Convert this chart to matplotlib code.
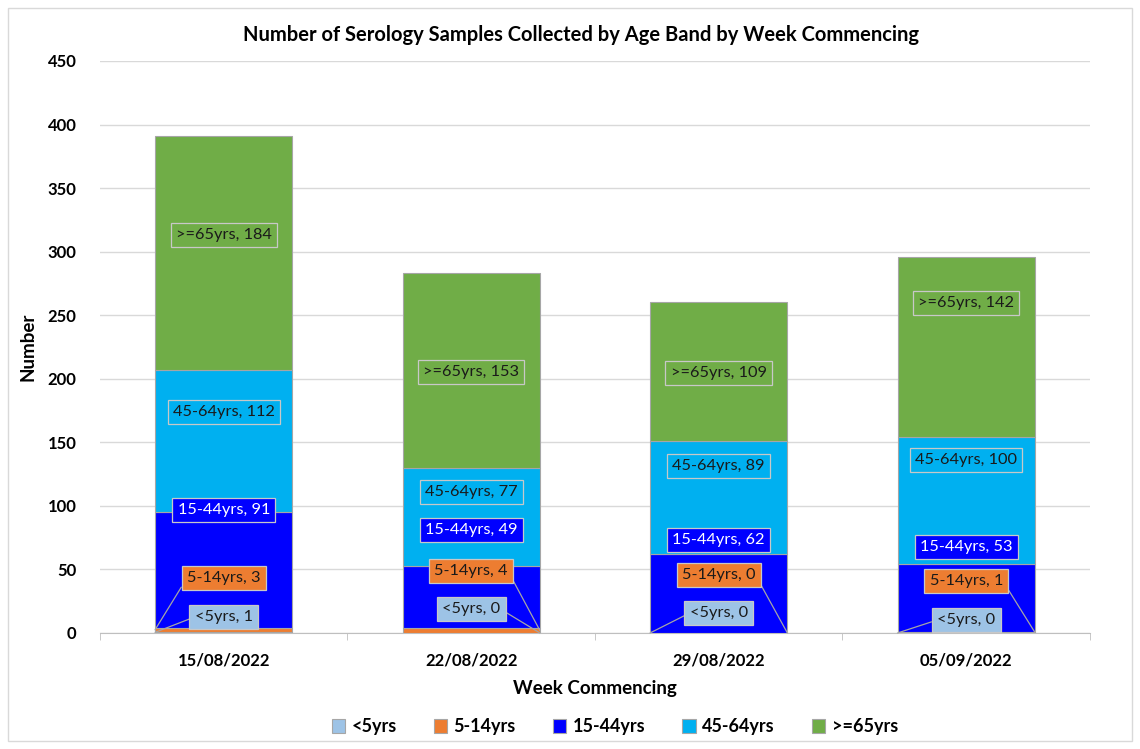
import matplotlib
matplotlib.use("Agg")
import matplotlib.pyplot as plt
from matplotlib.patches import Rectangle
import numpy as np

plt.rcParams["font.family"] = ["Lato", "DejaVu Sans"]

# data
weeks = ["15/08/2022", "22/08/2022", "29/08/2022", "05/09/2022"]
bands = ["<5yrs", "5-14yrs", "15-44yrs", "45-64yrs", ">=65yrs"]
under5 = [1, 0, 0, 0]
age5_14 = [3, 4, 0, 1]
age15_44 = [91, 49, 62, 53]
age45_64 = [112, 77, 89, 100]
age65plus = [184, 153, 109, 142]
yticks = [0, 50, 100, 150, 200, 250, 300, 350, 400, 450]

# styles / layout
colors = ["#9DC3E6", "#ED7D31", "#0000FF", "#00B0F0", "#70AD47"]
text_colors = ["#1A1A1A", "#1A1A1A", "white", "#1A1A1A", "#1A1A1A"]
# label heights (data units) as Excel placed them, per band per week
label_y = [
    [12.6, 18.9, 15.7, 10.2],
    [43.3, 48.8, 45.6, 40.9],
    [96.8, 81.0, 73.2, 67.7],
    [173.9, 110.9, 131.4, 136.1],
    [313.1, 205.3, 204.5, 259.6],
]
# which bar corner the leader line of small labels goes to (-1 left, 1 right)
leader_side = [
    [-1, 1, -1, -1],
    [-1, 1, 1, 1],
]

series = [under5, age5_14, age15_44, age45_64, age65plus]

fig = plt.figure(figsize=(11.4, 7.49), dpi=100)
ax = fig.add_axes([0.0877, 0.1549, 0.8684, 0.7637])

x = np.arange(len(weeks))
width = 0.555
bottom = np.zeros(len(weeks))
for k, (name, vals) in enumerate(zip(bands, series)):
    vals = np.array(vals, dtype=float)
    ax.bar(x, vals, width, bottom=bottom, color=colors[k], edgecolor="#A6A6A6",
           linewidth=0.8, label=name, zorder=3)
    for i in range(len(weeks)):
        txt = f"{name}, {int(vals[i])}"
        box = dict(boxstyle="square,pad=0.32", fc=colors[k], ec="#C8C8C8", lw=0.9)
        if k < 2:
            side = leader_side[k][i]
            ax.annotate(txt, xy=(x[i] + side * width / 2, bottom[i] + vals[i] / 2),
                        xytext=(x[i], label_y[k][i]), textcoords="data",
                        ha="center", va="center", fontsize=11.8,
                        color=text_colors[k], bbox=box, zorder=5,
                        arrowprops=dict(arrowstyle="-", color="#A6A6A6", lw=0.9,
                                        shrinkA=0, shrinkB=0,
                                        relpos=(1 if side > 0 else 0, 0.5)))
        else:
            ax.text(x[i], label_y[k][i], txt, ha="center", va="center",
                    fontsize=11.8, color=text_colors[k], bbox=box, zorder=5)
    bottom += vals

ax.set_xlim(-0.5, len(weeks) - 0.5)
ax.set_ylim(0, 450)
ax.set_yticks(yticks)
ax.set_yticklabels([str(v) for v in yticks], fontsize=12, fontweight="bold")
ax.set_xticks(x)
ax.set_xticklabels(weeks, fontsize=12, fontweight="bold")
ax.set_xticks(np.arange(-0.5, len(weeks), 1), minor=True)
ax.tick_params(axis="x", which="major", length=0, pad=14)
ax.tick_params(axis="x", which="minor", length=5, color="#BFBFBF")
ax.tick_params(axis="y", length=0, pad=17)
ax.grid(axis="y", color="#D9D9D9", lw=1, zorder=0)
for s in ["top", "right", "left"]:
    ax.spines[s].set_visible(False)
ax.spines["bottom"].set_color("#BFBFBF")

ax.set_xlabel("Week Commencing", fontsize=13.5, fontweight="bold", labelpad=8)
ax.set_ylabel("Number", fontsize=13.5, fontweight="bold", labelpad=8)
fig.text(0.51, 0.953, "Number of Serology Samples Collected by Age Band by Week Commencing",
         ha="center", va="center", fontsize=14.5, fontweight="bold")

ax.legend(loc="center", bbox_to_anchor=(0.52, -0.164), ncol=5, frameon=False,
          prop=dict(weight="bold", size=13), handlelength=0.75, handleheight=0.75,
          columnspacing=2.05, handletextpad=0.35)

fig.patches.append(Rectangle((0.007, 0.011), 0.986, 0.978, transform=fig.transFigure,
                             fill=False, ec="#D9D9D9", lw=1))

fig.savefig("out.png", dpi=100)
